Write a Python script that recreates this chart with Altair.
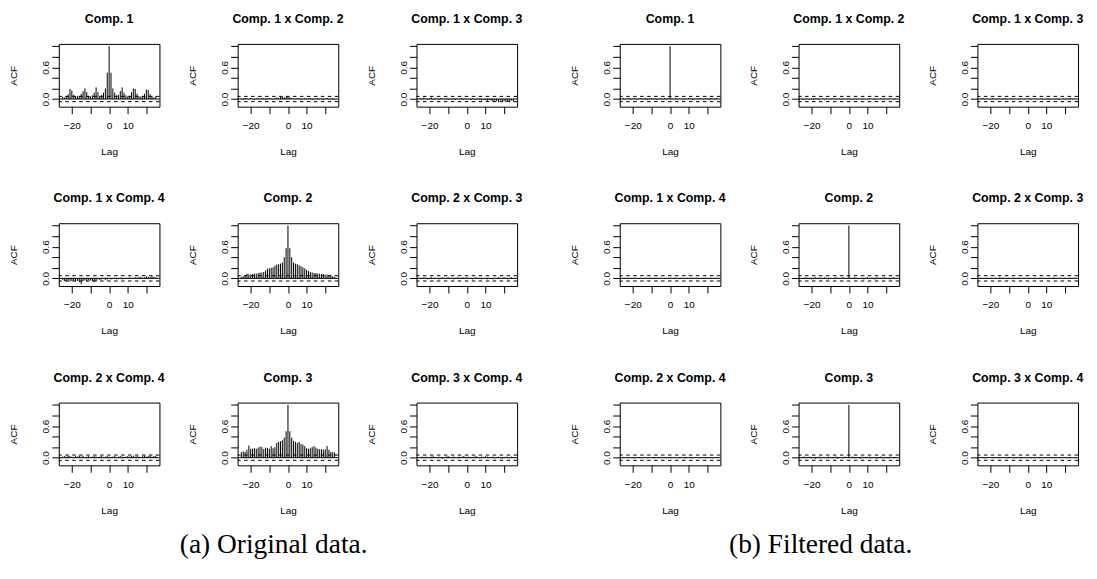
import altair as alt
import pandas as pd

# ---------------- data (lags -25 .. 25) ----------------
LAGS = list(range(-25, 26))

# (a) Original data
c11_a = [0.04, 0.03, 0.05, 0.09, 0.19, 0.16, 0.08, 0.05, 0.06, 0.06,
         0.10, 0.15, 0.20, 0.13, 0.06, 0.05, 0.07, 0.12, 0.22, 0.13,
         0.06, 0.08, 0.12, 0.20, 0.50,
         1.00,
         0.50, 0.20, 0.12, 0.07, 0.08, 0.15, 0.22, 0.12, 0.07, 0.05,
         0.06, 0.13, 0.20, 0.19, 0.10, 0.05, 0.05, 0.06, 0.10, 0.18,
         0.17, 0.09, 0.04, 0.03, 0.05]
c12_a = [0.01, -0.02, 0.02, 0.01, -0.01, 0.02, 0.00, -0.02, 0.01, 0.02,
         -0.01, 0.01, 0.02, -0.02, 0.01, 0.02, 0.01, -0.01, 0.02, 0.03,
         0.02, 0.04, 0.05, 0.03, 0.04,
         0.05,
         0.03, 0.02, 0.01, -0.01, 0.02, 0.01, -0.02, 0.01, 0.02, -0.01,
         0.01, 0.02, -0.02, -0.01, 0.01, 0.02, -0.01, 0.01, -0.02, 0.01,
         0.02, -0.01, 0.01, 0.02, -0.01]
c13_a = [0.02, -0.01, 0.03, 0.01, -0.02, 0.02, 0.03, -0.01, 0.02, 0.01,
         -0.02, 0.02, 0.01, -0.01, 0.02, -0.02, 0.01, -0.01, 0.02, -0.02,
         0.01, -0.01, 0.02, -0.02, 0.01,
         -0.01,
         0.01, -0.02, 0.01, -0.01, -0.02, 0.01, -0.02, -0.03, -0.01, -0.02,
         -0.04, -0.02, -0.03, -0.05, -0.03, -0.04, -0.06, -0.03, -0.05, -0.04,
         -0.06, -0.04, -0.05, -0.03, -0.05]
c14_a = [-0.03, -0.05, -0.06, -0.04, -0.06, -0.05, -0.04, -0.06, -0.05, -0.07,
         -0.11, -0.05, -0.04, -0.06, -0.03, -0.04, -0.06, -0.07, -0.05, -0.02,
         -0.03, -0.02, -0.01, -0.03, -0.02,
         -0.01,
         -0.02, -0.01, 0.01, -0.02, -0.01, 0.01, -0.02, -0.01, 0.01, -0.01,
         0.02, -0.01, 0.01, 0.02, 0.01, 0.02, 0.03, 0.01, 0.02, 0.04,
         0.03, 0.02, 0.04, 0.03, 0.02]
c22_a = [0.03, 0.04, 0.06, 0.09, 0.08, 0.07, 0.08, 0.09, 0.09, 0.10,
         0.11, 0.11, 0.12, 0.15, 0.18, 0.19, 0.20, 0.21, 0.24, 0.26,
         0.27, 0.28, 0.30, 0.40, 0.57,
         1.00,
         0.57, 0.40, 0.30, 0.28, 0.27, 0.25, 0.23, 0.21, 0.19, 0.16,
         0.14, 0.12, 0.11, 0.10, 0.10, 0.09, 0.09, 0.08, 0.08, 0.07,
         0.07, 0.06, 0.05, 0.04, 0.03]
c23_a = [0.01, -0.01, 0.02, 0.01, -0.02, 0.01, 0.02, -0.01, 0.01, 0.00,
         -0.02, 0.01, 0.02, -0.01, 0.01, 0.02, -0.01, 0.01, -0.02, 0.01,
         0.02, -0.01, 0.01, 0.02, 0.01,
         0.02,
         -0.01, 0.01, -0.02, 0.01, 0.02, -0.01, 0.01, -0.02, -0.01, 0.01,
         -0.02, 0.01, -0.01, -0.02, 0.01, -0.01, 0.02, 0.01, -0.01, 0.02,
         0.01, -0.02, 0.01, 0.02, -0.01]
c24_a = [0.02, 0.03, 0.02, 0.04, 0.03, 0.02, 0.01, 0.03, 0.02, 0.04,
         0.02, 0.03, 0.01, 0.02, 0.03, 0.01, 0.02, 0.03, 0.02, 0.01,
         0.02, 0.03, 0.01, 0.02, 0.03,
         0.02,
         0.01, 0.02, 0.03, 0.01, 0.02, 0.03, 0.02, 0.01, 0.02, 0.03,
         0.02, 0.03, 0.04, 0.02, 0.03, 0.02, 0.01, 0.03, 0.04, 0.02,
         0.03, 0.04, 0.02, 0.03, 0.04]
c33_a = [0.10, 0.12, 0.11, 0.15, 0.23, 0.17, 0.17, 0.18, 0.17, 0.19,
         0.21, 0.20, 0.16, 0.19, 0.18, 0.17, 0.22, 0.18, 0.20, 0.28,
         0.30, 0.31, 0.33, 0.38, 0.50,
         1.00,
         0.50, 0.38, 0.32, 0.30, 0.28, 0.30, 0.26, 0.25, 0.22, 0.18,
         0.17, 0.18, 0.20, 0.22, 0.19, 0.17, 0.16, 0.16, 0.15, 0.16,
         0.22, 0.15, 0.11, 0.10, 0.10]
c34_a = [0.01, 0.02, -0.01, 0.02, 0.01, -0.01, 0.02, 0.03, 0.01, -0.01,
         0.02, 0.01, -0.02, 0.01, 0.02, 0.03, 0.01, -0.01, 0.02, 0.01,
         -0.01, 0.02, 0.01, 0.03, 0.02,
         0.01,
         0.02, -0.01, 0.01, 0.02, 0.03, 0.01, -0.01, 0.02, 0.01, 0.03,
         0.02, -0.01, 0.01, 0.02, -0.01, 0.01, 0.02, 0.01, -0.02, 0.01,
         0.02, 0.01, -0.01, 0.02, 0.01]

# (b) Filtered data
c11_b = [0.02, -0.01, 0.01, 0.02, -0.02, 0.01, 0.02, -0.01, 0.01, 0.02,
         -0.01, 0.01, 0.02, -0.02, 0.01, 0.02, -0.01, 0.01, -0.02, 0.01,
         0.01, -0.01, 0.02, -0.01, 0.01,
         1.00,
         0.01, -0.01, 0.02, -0.01, 0.01, 0.01, -0.02, 0.01, -0.01, 0.02,
         0.01, -0.02, 0.02, 0.01, -0.01, 0.02, 0.01, -0.01, 0.02, 0.01,
         -0.02, 0.02, 0.01, -0.01, 0.02]
c12_b = [0.01, -0.01, 0.01, 0.00, -0.01, 0.01, -0.02, 0.01, 0.01, -0.01,
         0.00, 0.01, -0.01, 0.01, 0.00, -0.01, 0.01, 0.01, -0.01, 0.00,
         0.01, -0.01, 0.01, 0.00, 0.01,
         0.01,
         -0.01, 0.00, 0.01, -0.01, 0.01, 0.00, -0.01, 0.01, 0.00, -0.01,
         0.01, 0.00, -0.01, 0.01, -0.01, 0.00, 0.01, -0.01, 0.01, 0.00,
         -0.01, 0.01, 0.00, -0.01, 0.01]
c13_b = [0.01, 0.02, -0.01, 0.01, 0.00, -0.01, 0.02, 0.01, -0.01, 0.01,
         0.00, -0.01, 0.01, 0.02, -0.01, 0.00, 0.01, -0.01, 0.01, 0.00,
         -0.01, 0.01, 0.00, -0.01, 0.01,
         0.00,
         0.01, -0.01, 0.00, 0.01, -0.01, 0.00, 0.01, -0.01, 0.00, -0.01,
         0.01, -0.02, 0.00, 0.01, -0.01, 0.01, -0.02, 0.00, 0.01, -0.01,
         0.01, -0.01, 0.02, -0.01, 0.01]
c14_b = [0.00, 0.01, -0.01, 0.01, 0.00, -0.01, 0.01, 0.00, -0.01, 0.01,
         0.00, -0.01, 0.01, 0.00, 0.01, -0.01, 0.00, 0.01, -0.01, 0.00,
         0.01, 0.00, -0.01, 0.01, 0.00,
         0.01,
         0.00, -0.01, 0.01, 0.00, -0.01, 0.01, 0.00, -0.01, 0.01, 0.00,
         -0.01, 0.01, 0.00, 0.01, -0.01, 0.00, 0.01, -0.01, 0.01, 0.00,
         -0.01, 0.01, 0.00, -0.01, 0.01]
c22_b = [-0.01, 0.01, 0.02, -0.01, 0.01, -0.02, 0.01, 0.02, -0.01, 0.01,
         0.01, -0.01, 0.02, 0.01, -0.02, 0.01, 0.00, -0.01, 0.02, 0.01,
         -0.01, 0.01, 0.02, -0.01, 0.01,
         1.00,
         0.01, -0.01, 0.02, 0.01, -0.01, 0.00, 0.01, -0.02, 0.01, 0.02,
         -0.01, 0.01, 0.01, -0.02, 0.02, 0.01, -0.01, 0.01, 0.02, -0.01,
         0.01, -0.02, 0.01, 0.02, -0.01]
c23_b = [0.01, -0.01, 0.00, 0.01, -0.01, 0.01, 0.00, -0.01, 0.01, 0.00,
         0.02, -0.01, 0.01, 0.00, -0.01, 0.01, 0.00, 0.01, -0.01, 0.00,
         0.01, -0.01, 0.00, 0.01, 0.00,
         -0.01,
         0.01, 0.00, -0.01, 0.01, 0.00, -0.01, 0.01, 0.00, 0.01, -0.01,
         0.00, 0.01, -0.01, 0.02, 0.00, -0.01, 0.01, 0.00, -0.01, 0.01,
         0.00, -0.01, 0.01, 0.00, 0.01]
c24_b = [0.01, 0.00, -0.01, 0.01, 0.00, 0.01, -0.01, 0.00, 0.01, -0.01,
         0.00, 0.01, 0.00, -0.01, 0.01, 0.00, -0.01, 0.01, 0.00, 0.01,
         -0.01, 0.00, 0.01, -0.01, 0.00,
         0.01,
         -0.01, 0.00, 0.01, 0.00, -0.01, 0.01, 0.00, -0.01, 0.01, 0.00,
         0.01, -0.01, 0.00, 0.01, 0.00, -0.01, 0.01, 0.00, -0.01, 0.01,
         0.00, 0.01, -0.01, 0.00, 0.01]
c33_b = [0.01, 0.02, -0.01, 0.01, 0.02, -0.01, 0.01, -0.02, 0.01, 0.02,
         -0.01, 0.01, 0.01, -0.01, 0.02, 0.01, -0.01, 0.01, 0.02, -0.02,
         0.01, 0.01, -0.01, 0.02, 0.01,
         1.00,
         0.01, 0.02, -0.01, 0.01, 0.01, -0.02, 0.02, 0.01, -0.01, 0.01,
         0.02, -0.01, 0.01, 0.01, -0.02, 0.01, 0.02, -0.01, 0.01, 0.01,
         -0.01, 0.02, 0.01, -0.01, 0.01]
c34_b = [0.00, 0.01, -0.01, 0.00, 0.01, 0.00, -0.01, 0.01, 0.00, 0.01,
         -0.01, 0.00, 0.01, 0.00, -0.01, 0.01, 0.01, 0.00, -0.01, 0.01,
         0.00, -0.01, 0.01, 0.00, 0.01,
         0.00,
         0.01, -0.01, 0.00, 0.01, 0.00, -0.01, 0.01, 0.00, -0.01, 0.01,
         0.00, 0.01, -0.01, 0.00, 0.01, 0.00, -0.01, 0.01, 0.00, 0.01,
         -0.01, 0.00, 0.01, 0.00, -0.01]

CONF = [-0.05, 0.05]
X_TICKS = [-20, -10, 0, 10, 20]
Y_TICKS = [0.0, 0.2, 0.4, 0.6, 0.8, 1.0]

GROUP_A = [("Comp. 1", c11_a), ("Comp. 1 x Comp. 2", c12_a), ("Comp. 1 x Comp. 3", c13_a),
           ("Comp. 1 x Comp. 4", c14_a), ("Comp. 2", c22_a), ("Comp. 2 x Comp. 3", c23_a),
           ("Comp. 2 x Comp. 4", c24_a), ("Comp. 3", c33_a), ("Comp. 3 x Comp. 4", c34_a)]
GROUP_B = [("Comp. 1", c11_b), ("Comp. 1 x Comp. 2", c12_b), ("Comp. 1 x Comp. 3", c13_b),
           ("Comp. 1 x Comp. 4", c14_b), ("Comp. 2", c22_b), ("Comp. 2 x Comp. 3", c23_b),
           ("Comp. 2 x Comp. 4", c24_b), ("Comp. 3", c33_b), ("Comp. 3 x Comp. 4", c34_b)]

# ---------------- styling ----------------
FONT = "Liberation Sans"
SERIF = "Liberation Serif"
W, H = 101, 63

xscale = alt.Scale(domain=[-27, 27], nice=False, zero=False)
yscale = alt.Scale(domain=[-0.145, 1.045], nice=False, zero=False)

xaxis = alt.Axis(
    values=X_TICKS, title="Lag", format="d", grid=False, domain=False,
    labelExpr="datum.value == -20 ? '\u221220' : (datum.value == 0 || datum.value == 10) ? datum.label : ''",
    titleX=W / 2, titleY=45, titleBaseline="middle", titleAlign="center",
    labelPadding=7, labelFlush=False, labelOverlap=False,
)
yaxis = alt.Axis(
    values=Y_TICKS, title="ACF", grid=False, domain=False,
    labelExpr="abs(datum.value) < 0.001 ? '0.0' : abs(datum.value - 0.6) < 0.001 ? '0.6' : ''",
    labelAngle=270, labelAlign="center", labelBaseline="bottom", labelPadding=1,
    labelFlush=False, labelOverlap=False,
    titleX=-45, titleY=H / 2, titleBaseline="middle", titleAlign="center", titleAngle=270,
)


def panel(title, vals):
    df = pd.DataFrame({"lag": LAGS[:len(vals)], "acf": vals, "base": [0.0] * len(vals)})
    bars = alt.Chart(df).mark_rule(color="black", strokeWidth=1).encode(
        x=alt.X("lag:Q", scale=xscale, axis=xaxis),
        y=alt.Y("acf:Q", scale=yscale, axis=yaxis),
        y2="base:Q",
    )
    zero = alt.Chart(pd.DataFrame({"acf": [0.0]})).mark_rule(color="black", strokeWidth=1).encode(
        y=alt.Y("acf:Q", scale=yscale, axis=yaxis)
    )
    conf = alt.Chart(pd.DataFrame({"acf": CONF})).mark_rule(
        color="black", strokeWidth=1, strokeDash=[3.5, 3.5]
    ).encode(y=alt.Y("acf:Q", scale=yscale, axis=yaxis))
    return alt.layer(bars, zero, conf).properties(
        width=W, height=H,
        title=alt.TitleParams(title, font=FONT, fontSize=12.4, fontWeight="bold",
                              baseline="alphabetic", offset=8.7, anchor="middle", color="black"),
    )


def group(items, caption, dx):
    return alt.concat(
        *[panel(t, v) for t, v in items],
        columns=3, spacing={"row": 117, "column": 78.5}, bounds="flush",
    ).properties(
        title=alt.TitleParams(caption, orient="bottom", font=SERIF, fontSize=27.5,
                              fontWeight="normal", anchor="middle", baseline="middle",
                              offset=29, dx=dx, color="black")
    )


chart = alt.hconcat(
    group(GROUP_A, "(a) Original data.", 8),
    group(GROUP_B, "(b) Filtered data.", -6),
    spacing=46,
).properties(
    padding={"left": 0, "top": 3, "right": 5, "bottom": 5},
    background="white",
).configure_view(
    stroke="black", strokeWidth=1
).configure_axis(
    domain=False, grid=False, ticks=True, tickColor="black", tickSize=7, tickWidth=1,
    labelFont=FONT, labelFontSize=10, labelColor="black",
    titleFont=FONT, titleFontSize=10, titleFontWeight="normal", titleColor="black",
)

chart.save("out.html", embed_options={"renderer": "svg", "actions": False})
